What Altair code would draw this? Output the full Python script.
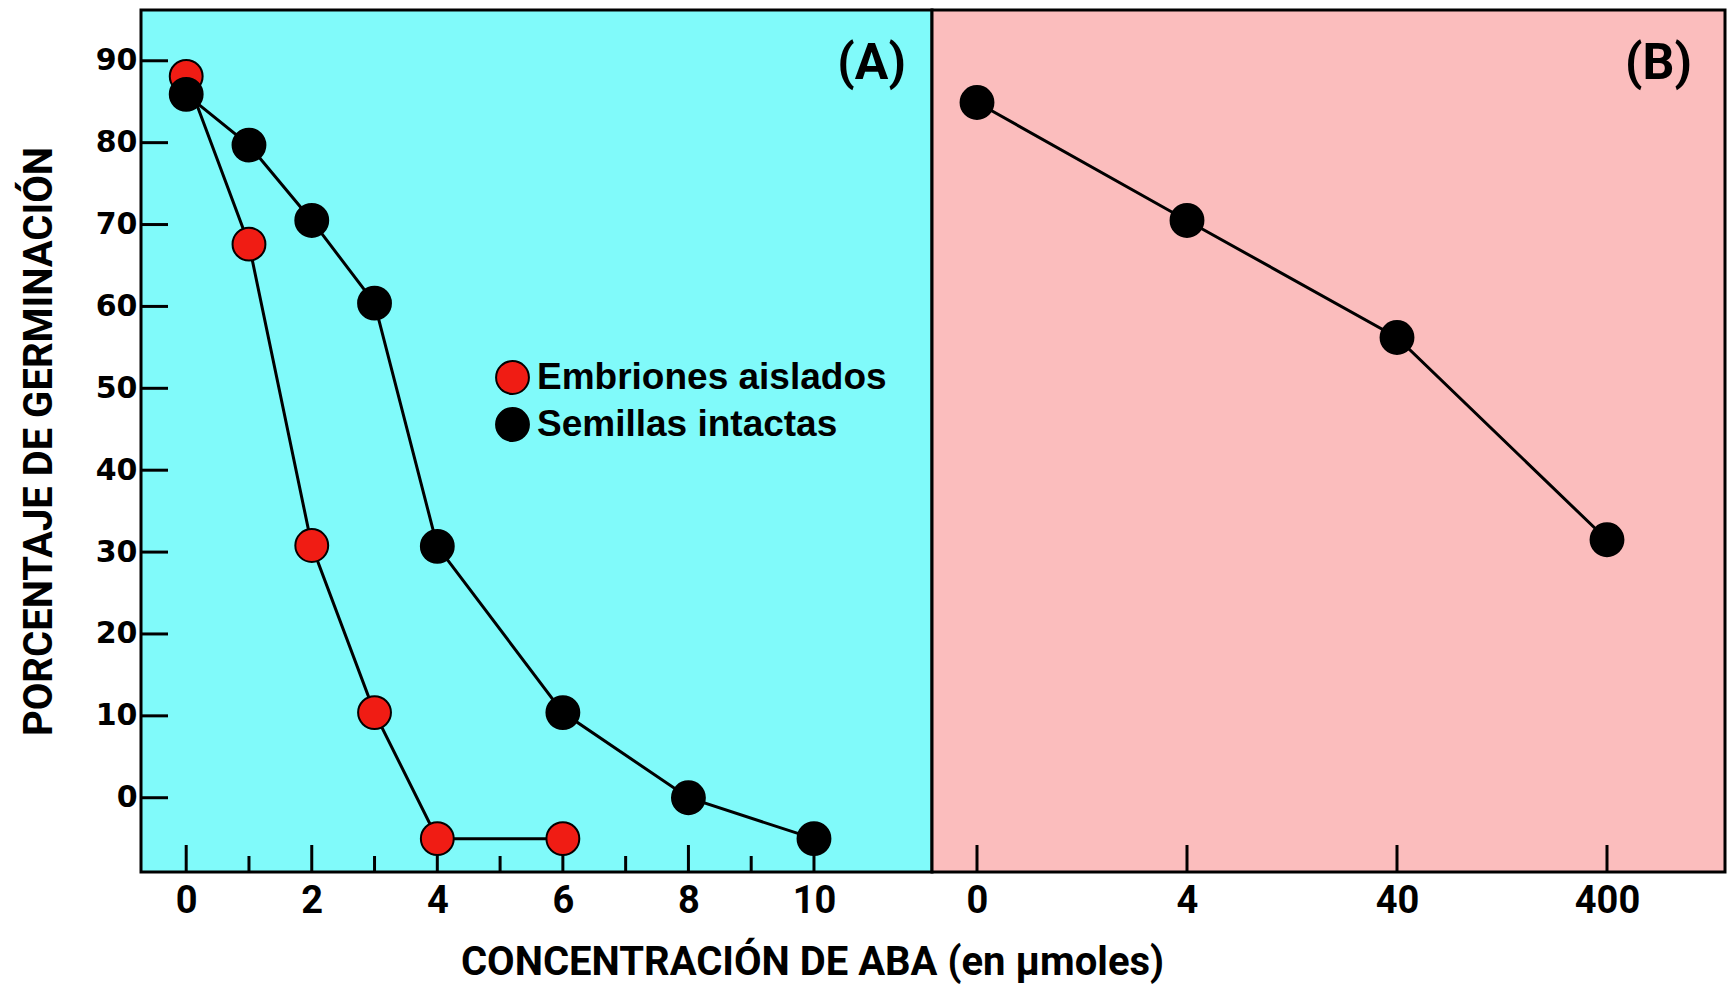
import altair as alt
import pandas as pd

# ---------------- data ----------------
series_names = ["Embriones aislados", "Semillas intactas"]

emb_x = [0, 1, 2, 3, 4, 6]
emb_y = [88.1, 67.6, 30.8, 10.4, -5.0, -5.0]

sem_x = [0, 1, 2, 3, 4, 6, 8, 10]
sem_y = [85.9, 79.7, 70.5, 60.4, 30.7, 10.4, 0.0, -5.0]

b_conc = ["0", "4", "40", "400"]
b_y = [84.9, 70.5, 56.2, 31.5]

y_ticks = [0, 10, 20, 30, 40, 50, 60, 70, 80, 90]
a_major_ticks = [0, 2, 4, 6, 8, 10]
a_minor_ticks = [1, 3, 5, 7, 9]

panel_labels = ["(A)", "(B)"]
x_title = "CONCENTRACIÓN DE ABA (en μmoles)"
y_title = "PORCENTAJE DE GERMINACIÓN"

# ---------------- tables ----------------
df_a = pd.DataFrame({
    "conc": emb_x + sem_x,
    "pct": emb_y + sem_y,
    "serie": [series_names[0]] * len(emb_x) + [series_names[1]] * len(sem_x),
})
df_b = pd.DataFrame({"conc": b_conc, "pct": b_y, "serie": [series_names[1]] * len(b_conc)})
df_yt = pd.DataFrame({"v": y_ticks})
df_xmaj = pd.DataFrame({"v": a_major_ticks})
df_xmin = pd.DataFrame({"v": a_minor_ticks})
df_bt = pd.DataFrame({"conc": b_conc})

# ---------------- style ----------------
W_A, W_B, H = 791, 793, 862
CYAN = "#80FAFA"
PINK = "#FBBDBD"
RED = "#F01C14"
COND = "Roboto, Liberation Sans, sans-serif"
WIDE = "DejaVu Sans, Verdana, sans-serif"
PT_SIZE = 1080
TICK_LONG = 27
TICK_SHORT = 16

yscale = alt.Scale(domain=[-9.07, 96.2], nice=False, zero=False)
xscale_a = alt.Scale(domain=[-0.72, 11.88], nice=False, zero=False)
xscale_b = alt.Scale(type="point", domain=b_conc, range=[45, 675], padding=0)

yaxis = alt.Axis(
    values=y_ticks, title=y_title, titleFont=COND, titleFontSize=40, titleFontWeight="bold",
    titleColor="black", titlePadding=36, labelFont=WIDE, labelFontSize=30, labelFontWeight="bold",
    labelColor="black", labelPadding=4, ticks=False, domain=False, grid=False,
)
xaxis_a = alt.Axis(
    values=a_major_ticks, format="d", title=x_title, titleFont=COND, titleFontSize=40,
    titleFontWeight="bold", titleColor="black", titleX=671, titleY=102, titleAlign="center",
    titleBaseline="alphabetic", labelFont=COND, labelFontSize=38, labelFontWeight="bold",
    labelColor="black", labelPadding=10, ticks=False, domain=False, grid=False,
)
xaxis_b = alt.Axis(
    title=None, labelFont=COND, labelFontSize=38, labelFontWeight="bold", labelColor="black",
    labelPadding=10, labelAngle=0, ticks=False, domain=False, grid=False,
)

fill_scale = alt.Scale(domain=series_names, range=[RED, "black"])

# ---------------- panel A ----------------
base_a = alt.Chart(df_a)
lines_a = base_a.mark_line(color="black", strokeWidth=3).encode(
    x=alt.X("conc:Q", scale=xscale_a, axis=xaxis_a),
    y=alt.Y("pct:Q", scale=yscale, axis=yaxis),
    detail="serie:N",
    order="conc:Q",
)
pts_a = base_a.mark_circle(size=PT_SIZE, opacity=1, stroke="black", strokeWidth=2).encode(
    x=alt.X("conc:Q", scale=xscale_a, axis=xaxis_a),
    y=alt.Y("pct:Q", scale=yscale, axis=yaxis),
    fill=alt.Fill(
        "serie:N", scale=fill_scale,
        legend=alt.Legend(
            title=None, orient="none", legendX=353, legendY=349, padding=0,
            labelFont="Liberation Sans, Arial, sans-serif", labelFontSize=37, labelFontWeight="bold",
            labelColor="black", labelOffset=6, labelLimit=0, rowPadding=6, symbolType="circle",
            symbolSize=PT_SIZE, symbolStrokeColor="black", symbolStrokeWidth=2,
            symbolOpacity=1,
        ),
    ),
    order=alt.Order("serie:N", sort="ascending"),
)
ytick_a = alt.Chart(df_yt).mark_rule(color="black", strokeWidth=3).encode(
    y=alt.Y("v:Q", scale=yscale, axis=yaxis),
    x=alt.value(0), x2=alt.value(27),
)
xmaj_a = alt.Chart(df_xmaj).mark_rule(color="black", strokeWidth=3).encode(
    x=alt.X("v:Q", scale=xscale_a, axis=xaxis_a),
    y=alt.value(H), y2=alt.value(H - TICK_LONG),
)
xmin_a = alt.Chart(df_xmin).mark_rule(color="black", strokeWidth=3).encode(
    x=alt.X("v:Q", scale=xscale_a, axis=xaxis_a),
    y=alt.value(H), y2=alt.value(H - TICK_SHORT),
)
lab_a = alt.Chart(pd.DataFrame({"t": [panel_labels[0]]})).mark_text(
    font=COND, fontSize=50, fontWeight="bold", color="black", align="right", baseline="middle",
).encode(text="t:N", x=alt.value(765), y=alt.value(54))

panel_a = alt.layer(ytick_a, xmaj_a, xmin_a, lines_a, pts_a, lab_a).properties(
    width=W_A, height=H, view=alt.ViewBackground(fill=CYAN, stroke="black", strokeWidth=3)
)

# ---------------- panel B ----------------
base_b = alt.Chart(df_b)
lines_b = base_b.mark_line(color="black", strokeWidth=3).encode(
    x=alt.X("conc:O", scale=xscale_b, axis=xaxis_b, sort=b_conc),
    y=alt.Y("pct:Q", scale=yscale, axis=None),
    order="pct:Q",
)
pts_b = base_b.mark_circle(size=PT_SIZE, opacity=1, stroke="black", strokeWidth=2).encode(
    x=alt.X("conc:O", scale=xscale_b, axis=xaxis_b, sort=b_conc),
    y=alt.Y("pct:Q", scale=yscale, axis=None),
    fill=alt.Fill("serie:N", scale=fill_scale, legend=None),
)
xt_b = alt.Chart(df_bt).mark_rule(color="black", strokeWidth=3).encode(
    x=alt.X("conc:O", scale=xscale_b, axis=xaxis_b, sort=b_conc),
    y=alt.value(H), y2=alt.value(H - TICK_LONG),
)
lab_b = alt.Chart(pd.DataFrame({"t": [panel_labels[1]]})).mark_text(
    font=COND, fontSize=50, fontWeight="bold", color="black", align="right", baseline="middle",
).encode(text="t:N", x=alt.value(760), y=alt.value(54))

panel_b = alt.layer(xt_b, lines_b, pts_b, lab_b).properties(
    width=W_B, height=H, view=alt.ViewBackground(fill=PINK, stroke="black", strokeWidth=3)
)

chart = (
    alt.hconcat(panel_a, panel_b, spacing=0, bounds="flush")
    .resolve_scale(fill="independent")
    .properties(padding={"left": 9, "top": 0, "right": 0, "bottom": 0}, background="white")
    .configure_view(stroke="black", strokeWidth=3)
)

chart.save("out.html", embed_options={"renderer": "svg", "actions": False})
